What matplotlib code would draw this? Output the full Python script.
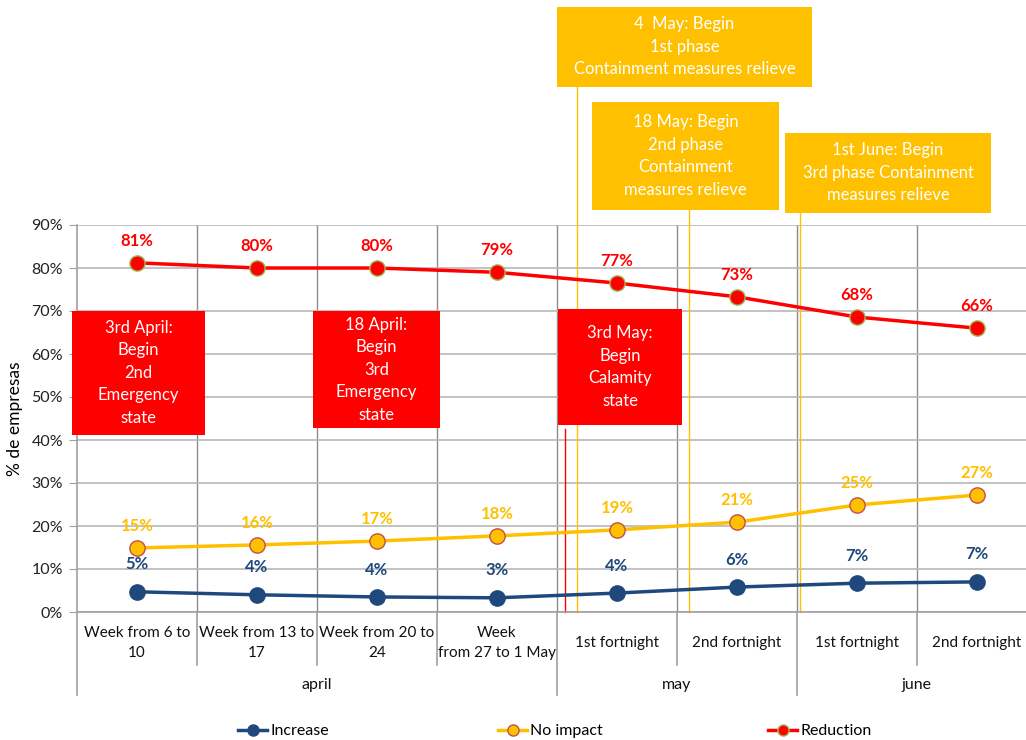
import matplotlib.pyplot as plt
from matplotlib.lines import Line2D
from matplotlib.patches import Rectangle
import matplotlib.transforms as mtransforms

plt.rcParams['font.family'] = ['Lato', 'DejaVu Sans']

# data
categories = ['Week from 6 to\n10', 'Week from 13 to\n17', 'Week from 20 to\n24',
              'Week\nfrom 27 to 1 May', '1st fortnight', '2nd fortnight',
              '1st fortnight', '2nd fortnight']
months = ['april', 'may', 'june']
month_span = [(0, 4), (4, 6), (6, 8)]
increase = [0.047, 0.040, 0.035, 0.033, 0.044, 0.058, 0.067, 0.070]
no_impact = [0.149, 0.156, 0.165, 0.177, 0.191, 0.209, 0.249, 0.272]
reduction = [0.812, 0.800, 0.800, 0.790, 0.765, 0.733, 0.686, 0.660]
inc_labels = ['5%', '4%', '4%', '3%', '4%', '6%', '7%', '7%']
noi_labels = ['15%', '16%', '17%', '18%', '19%', '21%', '25%', '27%']
red_labels = ['81%', '80%', '80%', '79%', '77%', '73%', '68%', '66%']

BLUE = '#1f497d'
YEL = '#ffc000'
RED = '#ff0000'

W, H = 1026, 740
fig = plt.figure(figsize=(W / 100, H / 100), dpi=100)
ax = fig.add_axes([77 / W, 1 - 612 / H, 960 / W, 387 / H])
x = list(range(len(categories)))

ax.set_xlim(-0.5, 7.5)
ax.set_ylim(0, 0.9)
ax.set_yticks([i / 10 for i in range(10)])
ax.set_yticklabels(['%d%%' % (i * 10) for i in range(10)], fontsize=11.5, color='#222222')
ax.set_xticks([])
ax.tick_params(axis='y', length=6, color='#a0a0a0', pad=4)
ax.grid(axis='y', color='#b8b8b8', linewidth=1.2)
for b in range(1, 8):
    ax.axvline(b - 0.5, color='#8c8c8c', linewidth=1.0, zorder=0)
for s in ['top', 'right']:
    ax.spines[s].set_visible(False)
ax.spines['left'].set_color('#a0a0a0')
ax.spines['bottom'].set_color('#a0a0a0')
ax.spines['left'].set_linewidth(1.2)
ax.spines['bottom'].set_linewidth(1.2)
ax.set_axisbelow(True)
ax.set_ylabel('% de empresas', fontsize=12.5, labelpad=6)

# event lines
ev_lines = [(3.567, 0.425, RED), (3.667, 1.221, YEL), (4.6, 0.935, YEL), (5.525, 0.935, YEL)]
for ex, top, c in ev_lines:
    ax.plot([ex, ex], [0, top], color=c, linewidth=1.0, clip_on=False, zorder=1)

# series
ax.plot(x, increase, color=BLUE, linewidth=2.5, marker='o', markersize=11,
        markerfacecolor=BLUE, markeredgecolor=BLUE, zorder=3)
ax.plot(x, no_impact, color=YEL, linewidth=2.5, marker='o', markersize=11,
        markerfacecolor=YEL, markeredgecolor='#c0504d', markeredgewidth=1, zorder=3)
ax.plot(x, reduction, color=RED, linewidth=2.5, marker='o', markersize=11,
        markerfacecolor=RED, markeredgecolor='#9bbb59', markeredgewidth=1, zorder=3)

for xi in x:
    ax.annotate(inc_labels[xi], (xi, increase[xi]), xytext=(0, 14), textcoords='offset points',
                ha='center', va='bottom', color=BLUE, fontsize=12, fontweight='bold')
    ax.annotate(noi_labels[xi], (xi, no_impact[xi]), xytext=(0, 10), textcoords='offset points',
                ha='center', va='bottom', color=YEL, fontsize=12, fontweight='bold')
    ax.annotate(red_labels[xi], (xi, reduction[xi]), xytext=(0, 10), textcoords='offset points',
                ha='center', va='bottom', color=RED, fontsize=12, fontweight='bold')

# category axis
tb = mtransforms.blended_transform_factory(ax.transData, fig.transFigure)
for xi, lab in enumerate(categories):
    ax.text(xi, 1 - 643 / H, lab, transform=tb, ha='center', va='center',
            fontsize=11, linespacing=1.6, color='#111111')
for b in range(9):
    bottom = 695 if b in (0, 4, 6, 8) else 665
    ax.plot([b - 0.5, b - 0.5], [1 - 612 / H, 1 - bottom / H], transform=tb,
            color='#a0a0a0', linewidth=1.2, clip_on=False)
for m, (s, e) in zip(months, month_span):
    ax.text((s + e - 1) / 2, 1 - 685 / H, m, transform=tb, ha='center', va='center',
            fontsize=11.5, color='#111111')


# annotation boxes (pixel layout)
def box(l, t, r, b, text, color):
    fig.patches.append(Rectangle((l / W, 1 - b / H), (r - l) / W, (b - t) / H,
                                 transform=fig.transFigure, facecolor=color,
                                 edgecolor='none', zorder=5))
    fig.text((l + r) / 2 / W, 1 - (t + b) / 2 / H, text, ha='center', va='center',
             color='white', fontsize=12, linespacing=1.5, zorder=6)


box(72, 311, 205, 435, '3rd April:\nBegin\n2nd\nEmergency\nstate', RED)
box(313, 311, 440, 428, '18 April:\nBegin\n3rd\nEmergency\nstate', RED)
box(558, 309, 682, 425, '3rd May:\nBegin\nCalamity\nstate', RED)
box(557, 7, 812, 87, '4  May: Begin\n1st phase\nContainment measures relieve', YEL)
box(592, 102, 779, 210, '18 May: Begin\n2nd phase\nContainment\nmeasures relieve', YEL)
box(785, 133, 991, 213, '1st June: Begin\n3rd phase Containment\nmeasures relieve', YEL)

# legend
leg_items = [('Increase', BLUE, BLUE, 240), ('No impact', YEL, '#c0504d', 500),
             ('Reduction', RED, '#9bbb59', 770)]
for name, c, ec, px in leg_items:
    h = Line2D([], [], color=c, linewidth=2.5, marker='o', markersize=8,
               markerfacecolor=c, markeredgecolor=ec)
    fig.legend(handles=[h], labels=[name], loc='center left', frameon=False,
               bbox_to_anchor=((px - 8) / W, 1 - 731 / H), fontsize=11.5,
               handlelength=1.8, handletextpad=0.2, borderaxespad=0)

fig.savefig('out.png', dpi=100)
